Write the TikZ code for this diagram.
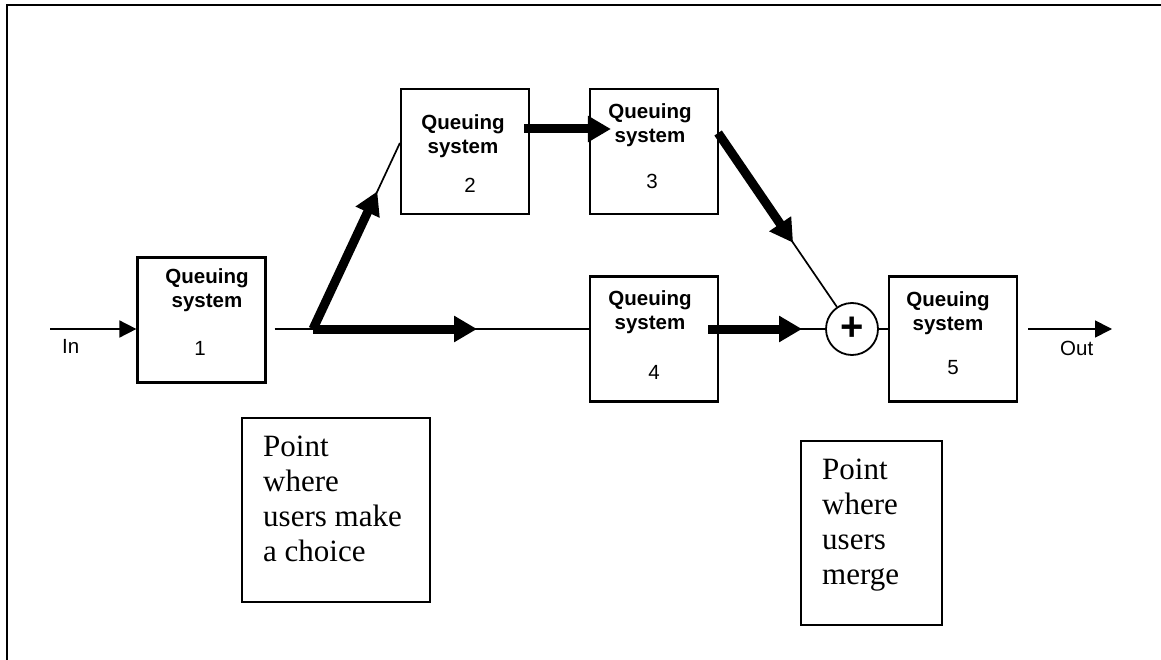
\documentclass[tikz,border=0pt]{standalone}
\usepackage{fontspec}
\setmainfont{Liberation Serif}
\setsansfont{Liberation Sans}
\usetikzlibrary{arrows.meta,calc}

\begin{document}
\begin{tikzpicture}[x=1pt,y=-1pt,
  qbox/.style={draw, line width=2.2pt, minimum width=128pt, minimum height=125pt, inner sep=0pt},
  qtitle/.style={font=\sffamily\bfseries\fontsize{20.5}{24}\selectfont, align=center, inner sep=0pt},
  qnum/.style={font=\sffamily\fontsize{20.5}{24}\selectfont, inner sep=0pt},
  notebox/.style={draw, line width=2.2pt, inner sep=0pt},
  notetext/.style={font=\rmfamily\fontsize{31}{35}\selectfont, align=left, inner sep=0pt, anchor=north west},
  flow/.style={line width=1.7pt},
  flowarrow/.style={line width=1.7pt, -{Triangle[length=17pt,width=17pt]}},
  fat/.style={line width=9pt, -{Triangle[length=23pt,width=25pt]}},
]
\useasboundingbox (0,0) rectangle (1161,660);

% open frame: top and left edges only
\draw[line width=2.5pt] (7,660) -- (7,5) -- (1161,5);

% queuing systems
\node[qbox] (b1) at (201.5,320) {};
\node[qbox] (b2) at (465,151.5) {};
\node[qbox] (b3) at (654,151.5) {};
\node[qbox] (b4) at (654,339) {};
\node[qbox] (b5) at (953,339) {};

\node[qtitle] (t1) at (207,290) {Queuing\\system};
\node[qnum]   (n1) at (200,348) {1};
\node[qtitle] (t2) at (463,136.5) {Queuing\\system};
\node[qnum]   (n2) at (470,185) {2};
\node[qtitle] (t3) at (650,125.5) {Queuing\\system};
\node[qnum]   (n3) at (652,181) {3};
\node[qtitle] (t4) at (650,312.5) {Queuing\\system};
\node[qnum]   (n4) at (654,372) {4};
\node[qtitle] (t5) at (948,313) {Queuing\\system};
\node[qnum]   (n5) at (953,368) {5};

% merge junction
\node[draw, circle, line width=1.8pt, minimum size=52pt, inner sep=0pt] (mrg) at (852,329) {};
\node[font=\sffamily\bfseries\fontsize{40}{40}\selectfont, inner sep=0pt] (plus) at (852,329) {+};

% entry and exit
\coordinate (inS) at (50,329);
\draw[flowarrow] (inS) -- (inS -| b1.west);
\node[qnum, anchor=base west] (inL) at (62,353) {In};

\coordinate (outE) at (1112,329);
\draw[flowarrow, shorten <=10pt] (b5.east |- outE) -- (outE);
\node[qnum, anchor=base west] (outL) at (1060,355) {Out};

% choice point
\coordinate (br) at (313,329);
\coordinate (b2in) at ([yshift=8.5pt]b2.west);
\draw[flow, shorten <=8pt] (b1.east |- br) -- (br);
\draw[flow] (br) -- (b2in);
\draw[fat] (br) -- ($(br)!0.74!(b2in)$);
\draw[flow] (br) -- (br -| b4.west);
\draw[fat] (br) -- (477,329);

% upper path
\draw[fat] ([shift={(-6pt,22.5pt)}]b2.east) -- ([shift={(22pt,22.5pt)}]b3.west);
\coordinate (b3out) at ([shift={(-1pt,18.5pt)}]b3.east);
\draw[flow] (b3out) -- (mrg);
\draw[fat] (b3out) -- ($(b3out)!0.56!(mrg.center)$);

% lower path
\draw[flow] (b4.east |- mrg) -- (mrg);
\draw[fat] ([xshift=-11pt]b4.east |- mrg) -- (802,329);
\draw[flow] (mrg) -- (b5.west |- mrg);

% explanatory notes
\node[notebox, minimum width=188pt, minimum height=184pt] (c1) at (336,510) {};
\node[notetext] (c1t) at (263,436) {Point\\where\\users make\\a choice};
\node[notebox, minimum width=141pt, minimum height=184pt] (c2) at (871.5,533) {};
\node[notetext] (c2t) at (822,459) {Point\\where\\users\\merge};
\end{tikzpicture}
\end{document}
